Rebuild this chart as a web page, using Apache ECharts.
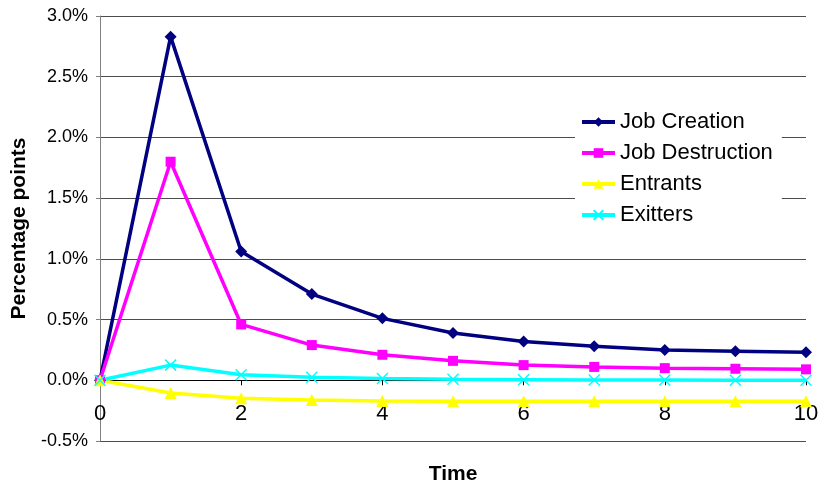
<!DOCTYPE html>
<html>
<head>
<meta charset="utf-8">
<script src="https://cdn.jsdelivr.net/npm/echarts@6/dist/echarts.min.js"></script>
<style>
  html, body { margin: 0; padding: 0; background: #fff; }
  #chart { width: 818px; height: 484px; }
</style>
</head>
<body>
<div id="chart"></div>
<script>
// Time periods after the shock
const periods = [0, 1, 2, 3, 4, 5, 6, 7, 8, 9, 10];

// Responses, in percentage points
const jobCreation    = [0, 2.83, 1.06, 0.71, 0.51, 0.39, 0.32, 0.28, 0.25, 0.24, 0.23];
const jobDestruction = [0, 1.80, 0.46, 0.29, 0.21, 0.16, 0.125, 0.11, 0.10, 0.095, 0.09];
const entrants       = [0, -0.105, -0.148, -0.163, -0.17, -0.173, -0.173, -0.173, -0.173, -0.173, -0.173];
const exitters       = [0, 0.125, 0.045, 0.025, 0.015, 0.008, 0.005, 0.003, 0.002, 0.001, 0.001];

const seriesNames = ['Job Creation', 'Job Destruction', 'Entrants', 'Exitters'];
const yTicks = { min: -0.5, max: 3.0, step: 0.5 };
const xTicks = { min: 0, max: 10, step: 2 };

const FONT = '"Liberation Sans", Arial, sans-serif';

// plot box
const CHART_H = 484;
const GRID = { left: 100, right: 12, top: 16, bottom: 43 };
const plotHeight = CHART_H - GRID.top - GRID.bottom;
// lift the time axis from the bottom edge up to the 0% level
const zeroLift = plotHeight * (0 - yTicks.min) / (yTicks.max - yTicks.min);

function pairs(values) {
  return periods.map((t, i) => [t, values[i]]);
}

function lineSeries(name, values, color, symbol, symbolSize, extraItem) {
  return {
    name: name,
    type: 'line',
    data: pairs(values),
    symbol: symbol,
    symbolSize: symbolSize,
    showAllSymbol: true,
    lineStyle: { color: color, width: 3.5 },
    itemStyle: Object.assign({ color: color }, extraItem || {}),
    emphasis: { disabled: true }
  };
}

const chart = echarts.init(document.getElementById('chart'), null, { renderer: 'canvas' });

chart.setOption({
  animation: false,
  backgroundColor: '#ffffff',
  textStyle: { fontFamily: FONT },
  grid: Object.assign({ containLabel: false, outerBoundsMode: 'none' }, GRID),
  legend: {
    data: seriesNames,
    orient: 'vertical',
    left: 575,
    top: 102,
    padding: [9, 9, 4, 5],
    itemGap: 9,
    itemWidth: 33,
    itemHeight: 12,
    backgroundColor: '#ffffff',
    lineStyle: { width: 4 },
    textStyle: { fontFamily: FONT, fontSize: 22, color: '#000', lineHeight: 22 }
  },
  xAxis: {
    type: 'value',
    min: xTicks.min,
    max: xTicks.max,
    interval: xTicks.step,
    offset: -zeroLift,
    name: 'Time',
    nameLocation: 'middle',
    nameGap: 83,
    nameTextStyle: { fontFamily: FONT, fontSize: 21, fontWeight: 'bold', color: '#000' },
    axisLine: { onZero: false, lineStyle: { color: '#000', width: 1 } },
    axisTick: { show: true, length: 5, lineStyle: { color: '#000' } },
    axisLabel: { fontFamily: FONT, fontSize: 22, color: '#000', margin: 23 },
    splitLine: { show: false }
  },
  yAxis: {
    type: 'value',
    min: yTicks.min,
    max: yTicks.max,
    interval: yTicks.step,
    name: 'Percentage points',
    nameLocation: 'middle',
    nameGap: 70,
    nameTextStyle: { fontFamily: FONT, fontSize: 21, fontWeight: 'bold', color: '#000' },
    axisLine: { show: true, onZero: false, lineStyle: { color: '#808080', width: 1 } },
    axisTick: { show: true, length: 4, lineStyle: { color: '#808080' } },
    axisLabel: {
      fontFamily: FONT, fontSize: 18, color: '#000', margin: 12,
      formatter: v => v.toFixed(1) + '%'
    },
    splitLine: { show: true, lineStyle: { color: '#4d4d4d', width: 1 } }
  },
  series: [
    lineSeries(seriesNames[0], jobCreation, '#000080', 'diamond', 12),
    lineSeries(seriesNames[1], jobDestruction, '#ff00ff', 'rect', 10),
    lineSeries(seriesNames[2], entrants, '#ffff00', 'triangle', 12),
    lineSeries(seriesNames[3], exitters, '#00ffff', 'path://M0,0L10,10M10,0L0,10', 11,
      { borderColor: '#00ffff', borderWidth: 1.5 })
  ]
});
</script>
</body>
</html>
